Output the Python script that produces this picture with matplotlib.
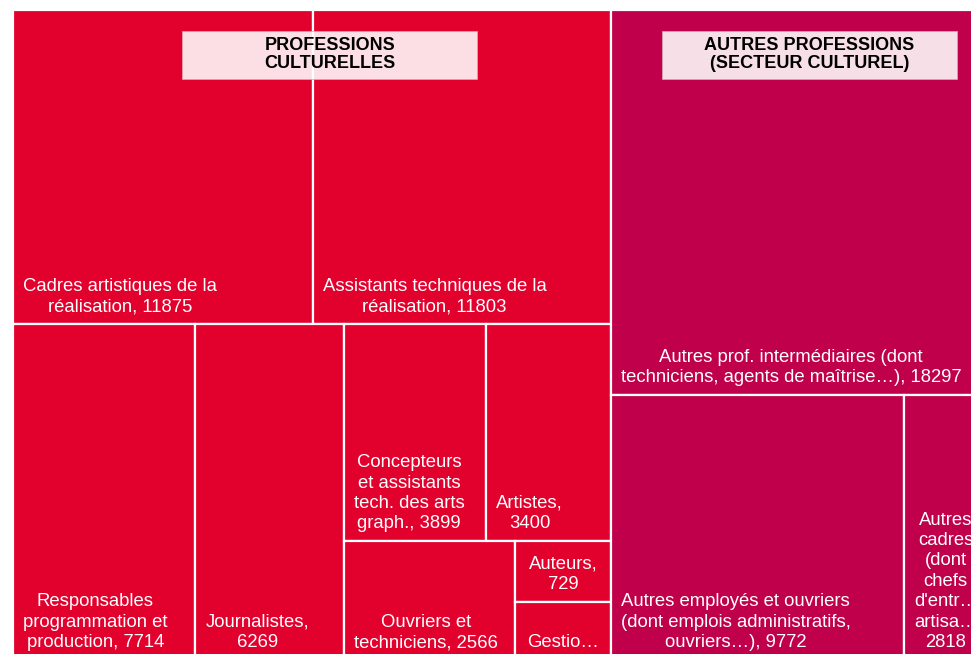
import matplotlib.pyplot as plt
from matplotlib.patches import Rectangle

plt.rcParams['font.family'] = ['Liberation Sans', 'DejaVu Sans']

# data
groups = ["PROFESSIONS\nCULTURELLES", "AUTRES PROFESSIONS\n(SECTEUR CULTUREL)"]
group_colors = ["#e2002c", "#c0004a"]

labels = [
    "Cadres artistiques de la\nréalisation, {}",
    "Assistants techniques de la\nréalisation, {}",
    "Responsables\nprogrammation et\nproduction, {}",
    "Journalistes,\n{}",
    "Concepteurs\net assistants\ntech. des arts\ngraph., {}",
    "Artistes,\n{}",
    "Ouvriers et\ntechniciens, {}",
    "Auteurs,\n{}",
    "Gestio…",
    "Autres prof. intermédiaires (dont\ntechniciens, agents de maîtrise…), {}",
    "Autres employés et ouvriers\n(dont emplois administratifs,\nouvriers…), {}",
    "Autres\ncadres\n(dont\nchefs\nd'entr…\nartisa…\n{}",
]
values = [11875, 11803, 7714, 6269, 3899, 3400, 2566, 729, 700, 18297, 9772, 2818]
group_of = [0, 0, 0, 0, 0, 0, 0, 0, 0, 1, 1, 1]

# slice/dice structure of the treemap (leaves are indexes into values)
tree = ('h', [
    ('v', [('h', [0, 1]),
           ('h', [2, 3, ('v', [('h', [4, 5]),
                               ('h', [6, ('v', [7, 8])])])])]),
    ('v', [9, ('h', [10, 11])]),
])


def size(node):
    if isinstance(node, int):
        return values[node]
    return sum(size(k) for k in node[1])


def layout(node, x, y, w, h, out):
    if isinstance(node, int):
        out[node] = (x, y, w, h)
        return
    d, kids = node
    total = size(node)
    for k in kids:
        f = size(k) / total
        if d == 'h':
            layout(k, x, y, w * f, h, out)
            x += w * f
        else:
            layout(k, x, y, w, h * f, out)
            y += h * f


fig = plt.figure(figsize=(9.71, 6.54), dpi=100)
# axes runs slightly past the right and bottom edges (cropped like the original)
ax = fig.add_axes([13 / 971, -6 / 654, 975 / 971, 650 / 654])
W, H = 975, 650
ax.set_xlim(0, W)
ax.set_ylim(H, 0)
ax.axis('off')

rects = {}
layout(tree, 0, 0, W, H, rects)

for i, (x, y, w, h) in rects.items():
    ax.add_patch(Rectangle((x, y), w, h, facecolor=group_colors[group_of[i]],
                           edgecolor='white', linewidth=1.6, zorder=1))
    txt = labels[i].format(values[i])
    if w < 110:
        ax.text(x + w / 2, y + h - 9, txt, ha='center', va='bottom',
                multialignment='center', color='white', fontsize=13.3,
                linespacing=1.26, zorder=3, clip_on=True)
    else:
        ax.text(x + 10, y + h - 9, txt, ha='left', va='bottom',
                multialignment='center', color='white', fontsize=13.3,
                linespacing=1.26, zorder=3, clip_on=True)

# group headers
header_dx = [18, 10]
for g, name in enumerate(groups):
    members = [rects[i] for i in range(len(values)) if group_of[i] == g]
    gx0 = min(r[0] for r in members)
    gx1 = max(r[0] + r[2] for r in members)
    cx = (gx0 + gx1) / 2 + header_dx[g]
    bw = 295
    ax.add_patch(Rectangle((cx - bw / 2, 21), bw, 48, facecolor='white',
                           alpha=0.88, edgecolor='#d9a7b5', linewidth=0.6,
                           zorder=2))
    ax.text(cx, 44.5, name, ha='center', va='center', fontsize=13,
            fontweight='bold', color='black', linespacing=1.1, zorder=4)

fig.savefig('out.png', dpi=100)
